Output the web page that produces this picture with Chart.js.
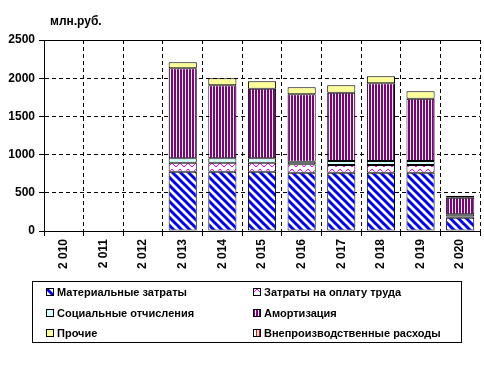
<!DOCTYPE html>
<html>
<head>
<meta charset="utf-8">
<script src="https://cdn.jsdelivr.net/npm/chart.js@4/dist/chart.umd.min.js"></script>
<style>
body { margin: 0; background: #fff; }
#wrap { position: relative; width: 484px; height: 369px; }
#legend {
  position: absolute; left: 32px; top: 281px; width: 430px; height: 62px;
  border: 1px solid #000; box-sizing: border-box;
  font: bold 11px "Liberation Sans", Arial, sans-serif; color: #000;
}
#legend .item { position: absolute; display: flex; align-items: center; white-space: nowrap; }
#legend canvas { margin-right: 3px; }
</style>
</head>
<body>
<div id="wrap">
  <canvas id="chart"></canvas>
  <div id="legend"></div>
</div>
<script>
years = ['2 010', '2 011', '2 012', '2 013', '2 014', '2 015', '2 016', '2 017', '2 018', '2 019', '2 020']
names = ['Материальные затраты', 'Затраты на оплату труда', 'Социальные отчисления', 'Амортизация', 'Прочие', 'Внепроизводственные расходы']
material = [null, null, null, 776, 776, 776, 763, 763, 763, 763, 174]
labour   = [null, null, null, 118, 118, 118, 110, 101, 101, 101, 15]
social   = [null, null, null, 57, 57, 57, 34, 52, 52, 52, 30]
amort    = [null, null, null, 1179, 956, 912, 882, 894, 1017, 816, 217]
other    = [null, null, null, 78, 92, 96, 92, 97, 92, 96, 26]
nonprod  = [null, null, null, null, null, null, null, null, null, null, null]
yTicks = [0, 500, 1000, 1500, 2000, 2500]

function tile(w, h, draw) {
  c = document.createElement('canvas');
  c.width = w; c.height = h;
  g = c.getContext('2d');
  draw(g, w, h);
  return c;
}
tiles = [
  tile(8, 8, function (g, w, h) {
    g.fillStyle = '#fff'; g.fillRect(0, 0, w, h);
    g.strokeStyle = '#0000ff'; g.lineWidth = 3;
    for (k = -1; k <= 1; k++) {
      g.beginPath(); g.moveTo(k * 8 - 2, -2); g.lineTo(k * 8 + 10, 10); g.stroke();
    }
  }),
  tile(8, 6, function (g, w, h) {
    g.fillStyle = '#fff'; g.fillRect(0, 0, w, h);
    g.strokeStyle = '#ff00ff'; g.lineWidth = 1;
    g.beginPath(); g.moveTo(0, 5); g.lineTo(4, 1); g.lineTo(8, 5); g.stroke();
  }),
  tile(6, 6, function (g, w, h) {
    g.fillStyle = '#ccffff'; g.fillRect(0, 0, w, h);
    g.strokeStyle = '#ffffff'; g.lineWidth = 1;
    g.beginPath(); g.moveTo(0, 6); g.lineTo(6, 0); g.stroke();
  }),
  tile(3, 3, function (g, w, h) {
    g.fillStyle = '#fff'; g.fillRect(0, 0, w, h);
    g.fillStyle = '#800080'; g.fillRect(0, 0, 2, h);
  }),
  tile(2, 2, function (g, w, h) {
    g.fillStyle = '#ffff99'; g.fillRect(0, 0, w, h);
  }),
  tile(3, 3, function (g, w, h) {
    g.fillStyle = '#fff'; g.fillRect(0, 0, w, h);
    g.fillStyle = '#ff0000'; g.fillRect(0, 0, 1, h);
  })
]
ctx = document.getElementById('chart').getContext('2d');
fills = tiles.map(function (t) { return ctx.createPattern(t, 'repeat'); });

series = [material, labour, social, amort, other, nonprod]
data = series.map(function (s, i) {
  return {
    label: names[i],
    data: s,
    backgroundColor: fills[i],
    borderColor: '#000',
    borderWidth: 1,
    borderSkipped: false,
    categoryPercentage: 1,
    barPercentage: 0.71
  };
});

font = { family: '"Liberation Sans", Arial, sans-serif', weight: 'bold', size: 12 };

topLine = {
  id: 'topLine',
  afterDraw: function (chart) {
    a = chart.chartArea; c = chart.ctx;
    c.save();
    c.strokeStyle = '#000'; c.lineWidth = 1;
    c.beginPath(); c.moveTo(a.left, Math.round(a.top) + 0.5); c.lineTo(a.right, Math.round(a.top) + 0.5); c.stroke();
    c.fillStyle = '#000';
    c.font = 'bold 12px "Liberation Sans", Arial, sans-serif';
    c.textBaseline = 'middle';
    c.fillText('млн.руб.', a.left + 6, 22);
    c.restore();
  }
};

config = {
  type: 'bar',
  data: { labels: years, datasets: data },
  options: {
    responsive: true,
    maintainAspectRatio: false,
    animation: false,
    layout: { padding: { top: 40, right: 4, bottom: 88, left: 0 } },
    plugins: { legend: { display: false }, title: { display: false }, tooltip: { enabled: false } },
    scales: {
      x: {
        stacked: true,
        afterFit: function (s) { s.height = 50; },
        grid: { color: '#000', tickColor: '#000', tickLength: 5, offset: true },
        border: { color: '#000', dash: [4, 3] },
        ticks: { color: '#000', font: font, minRotation: 90, maxRotation: 90, padding: 3 }
      },
      y: {
        stacked: true,
        min: 0, max: 2500,
        afterFit: function (s) { s.width = 44; },
        afterBuildTicks: function (s) { s.ticks = yTicks.map(function (v) { return { value: v }; }); },
        grid: { color: '#000', tickColor: '#000', tickLength: 5 },
        border: { color: '#000', dash: [4, 3] },
        ticks: { color: '#000', font: font, padding: 4, callback: function (v) { return String(v); } }
      }
    }
  },
  plugins: [topLine]
};
new Chart(ctx, config);

legend = document.getElementById('legend');
names.forEach(function (n, i) {
  it = document.createElement('div');
  it.className = 'item';
  it.style.left = (i % 2 ? 220 : 13) + 'px';
  it.style.top = (4 + Math.floor(i / 2) * 20.5) + 'px';
  sw = document.createElement('canvas');
  sw.width = 8; sw.height = 8;
  sg = sw.getContext('2d');
  sg.fillStyle = sg.createPattern(tiles[i], 'repeat');
  sg.fillRect(0, 0, 8, 8);
  sg.strokeStyle = '#000'; sg.lineWidth = 1;
  sg.strokeRect(0.5, 0.5, 7, 7);
  it.appendChild(sw);
  sp = document.createElement('span');
  sp.textContent = n;
  it.appendChild(sp);
  legend.appendChild(it);
});
</script>
</body>
</html>
